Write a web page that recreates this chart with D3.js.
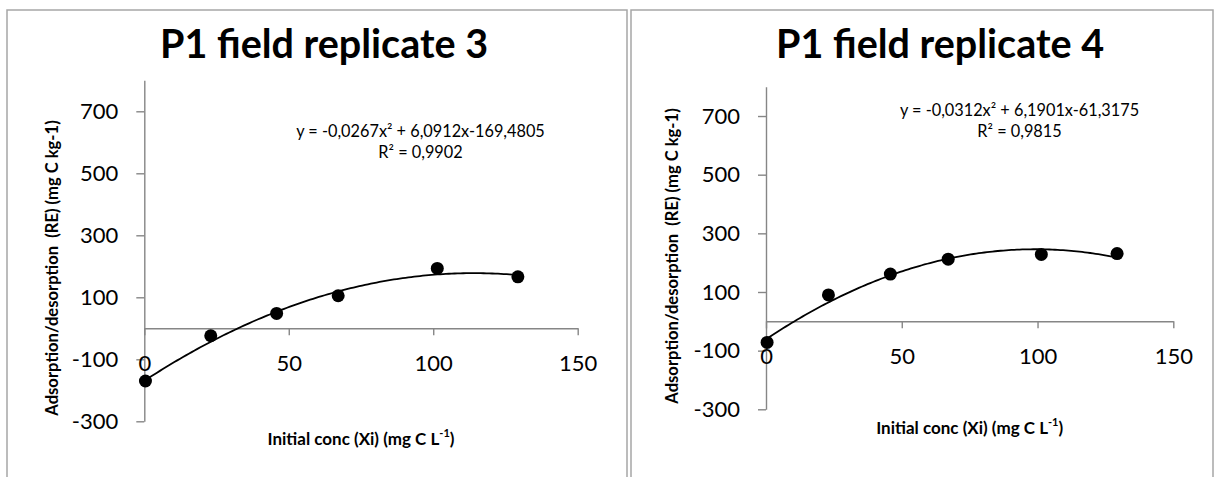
<!DOCTYPE html>
<html>
<head>
<meta charset="utf-8">
<script src="https://cdn.jsdelivr.net/npm/d3@7"></script>
<style>
  body { margin: 0; background: #fff; }
  svg { display: block; font-family: Lato, "Open Sans", sans-serif; }
</style>
</head>
<body>
<svg id="chart" width="1218" height="477"></svg>
<script>
// data
var initialConc = [0.4, 23, 45.8, 67.1, 101.4, 129.3]
var rep3Values = [-170, -24, 48, 105, 193, 166]
var rep4Values = [-72, 90, 161, 212, 228, 231]
// trendline coefficients (a, b, c) as printed on the charts
var rep3Fit = [-0.0267, 6.0912, -169.4805]
var rep4Fit = [-0.0312, 6.1901, -61.3175]
var titles = ["P1 field replicate 3", "P1 field replicate 4"]
var equations = ["y = -0,0267x² + 6,0912x-169,4805", "y = -0,0312x² + 6,1901x-61,3175"]
var rSquared = ["R² = 0,9902", "R² = 0,9815"]
var xTicks = [0, 50, 100, 150]
var yTicks = [-300, -100, 100, 300, 500, 700]
var xDomain = [0, 150]
var yDomain = [-300, 800]

var svg = d3.select("#chart")

// layout of the two panels (pixels)
var panels = [
  {box: [7, 10, 620], x: [144.3, 577.7], y: [421.3, 80.3], title: [324, 42],
   eq: [420.5, 130.7], ylab: [52, 268], xlab: 438, values: rep3Values, fit: rep3Fit},
  {box: [631, 10, 582], x: [766, 1173.3], y: [409.3, 86.7], title: [940, 42],
   eq: [1019.5, 109.7], ylab: [672, 256], xlab: 426.7, values: rep4Values, fit: rep4Fit}
]

var drawPanel = function(p, i)
{
  svg.append("rect")
     .attr("x", p.box[0]).attr("y", p.box[1])
     .attr("width", p.box[2]).attr("height", 600)
     .attr("fill", "none").attr("stroke", "#a6a6a6").attr("stroke-width", 1.5)

  var xScale = d3.scaleLinear().domain(xDomain).range(p.x)
  var yScale = d3.scaleLinear().domain(yDomain).range(p.y)

  var plain = function(d){return String(d)}
  var yAxis = d3.axisLeft(yScale).tickValues(yTicks).tickFormat(plain)
                .tickSize(8).tickSizeOuter(0).tickPadding(18)
  var xAxis = d3.axisBottom(xScale).tickValues(xTicks).tickFormat(plain)
                .tickSize(7).tickSizeOuter(0)

  var gy = svg.append("g")
              .attr("transform", "translate(" + p.x[0] + ",0)")
              .call(yAxis)
  var gx = svg.append("g")
              .attr("transform", "translate(0," + yScale(0) + ")")
              .call(xAxis)

  ;[gx, gy].forEach(function(g)
  {
    g.selectAll("path, line").attr("stroke", "#868686").attr("stroke-width", 1.4)
    g.selectAll("text").attr("fill", "#000").attr("font-size", 22)
     .attr("font-family", "Lato, 'Open Sans', sans-serif")
  })
  gx.selectAll("text").attr("y", 35).attr("dy", "0.35em")

  // trendline
  var a = p.fit[0], b = p.fit[1], c = p.fit[2]
  var xs = d3.range(initialConc[0], initialConc[initialConc.length - 1], 1)
  xs.push(initialConc[initialConc.length - 1])
  var line = d3.line()
               .x(function(x){return xScale(x)})
               .y(function(x){return yScale(a * x * x + b * x + c)})
  svg.append("path")
     .datum(xs)
     .attr("d", line)
     .attr("fill", "none").attr("stroke", "#000").attr("stroke-width", 1.8)

  svg.append("g")
     .selectAll("circle")
     .data(p.values)
     .enter()
     .append("circle")
     .attr("cx", function(v, j){return xScale(initialConc[j])})
     .attr("cy", function(v){return yScale(v)})
     .attr("r", 6.5)
     .attr("fill", "#000")

  svg.append("text")
     .attr("x", p.title[0]).attr("y", p.title[1])
     .attr("text-anchor", "middle").attr("dominant-baseline", "central")
     .attr("font-size", 39.5).attr("font-weight", "bold")
     .text(titles[i])

  svg.append("text")
     .attr("x", p.eq[0]).attr("y", p.eq[1])
     .attr("text-anchor", "middle").attr("dominant-baseline", "central")
     .attr("font-size", 16.3)
     .text(equations[i])
  svg.append("text")
     .attr("x", p.eq[0]).attr("y", p.eq[1] + 21)
     .attr("text-anchor", "middle").attr("dominant-baseline", "central")
     .attr("font-size", 16.3)
     .text(rSquared[i])

  svg.append("text")
     .attr("transform", "translate(" + p.ylab[0] + "," + p.ylab[1] + ") rotate(-90)")
     .attr("text-anchor", "middle").attr("dominant-baseline", "central")
     .attr("font-size", 16.6).attr("font-weight", "bold")
     .style("white-space", "pre")
     .text("Adsorption/desorption  (RE) (mg C kg-1)")

  var xl = svg.append("text")
              .attr("x", (p.x[0] + p.x[1]) / 2).attr("y", p.xlab)
              .attr("text-anchor", "middle").attr("dominant-baseline", "central")
              .attr("font-size", 17).attr("font-weight", "bold")
  xl.append("tspan").text("Initial conc (Xi) (mg C L")
  xl.append("tspan").attr("font-size", 11).attr("dy", -6).text("-1")
  xl.append("tspan").attr("dy", 6).text(")")
}

panels.forEach(drawPanel)
</script>
</body>
</html>
